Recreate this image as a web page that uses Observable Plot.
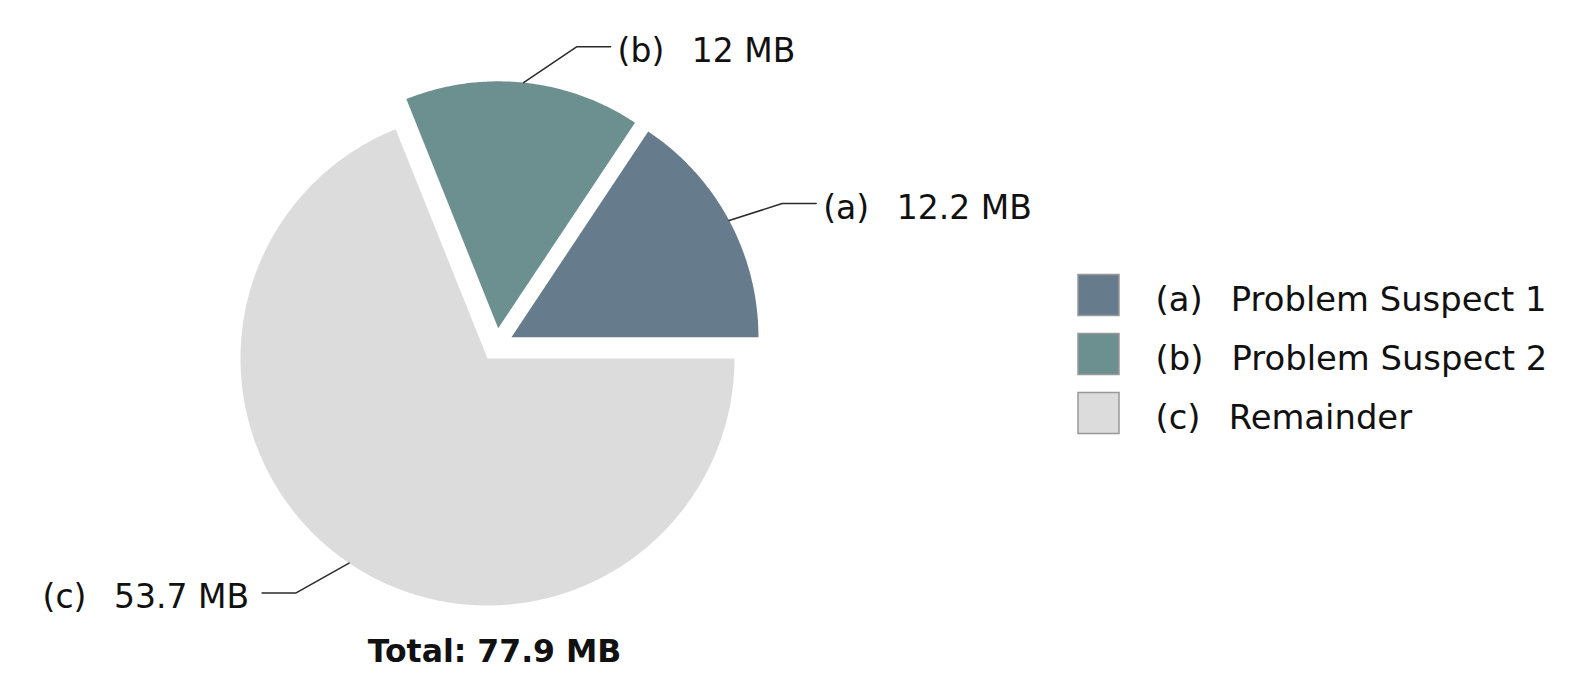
<!DOCTYPE html>
<html><head><meta charset="utf-8">
<script src="https://cdn.jsdelivr.net/npm/d3@7"></script>
<script src="https://cdn.jsdelivr.net/npm/@observablehq/plot@0.6"></script>
<style>html,body{margin:0;padding:0;background:#fff;} #chart svg{display:block}</style>
</head><body><div id="chart"></div>
<script>
// ---------------- data ----------------
const keys = ["(a)", "(b)", "(c)"];
const names = ["Problem Suspect 1", "Problem Suspect 2", "Remainder"];
const sizesMB = [12.2, 12, 53.7];
const exploded = [true, true, false];
const colors = ["#667b8b", "#6b908f", "#dcdcdc"];
const unit = "MB";

// ---------------- layout ----------------
const W = 1582, H = 684;
const CX = 487, CY = 358, R = 247;
const groupPull = 16, slicePull = 17;
const leaderRise = 36, leaderRun = 53, leaderTail = 34, gapStart = 7, gapEnd = 13;
const FS = 33, LFS = 33.8, FONT = "DejaVu Sans";
const legendX = 1078, legendShift = -4, legendStep = 59, swatch = 41, legendTextX = 1155;
const textDy = 5;
const SEP = "\u00a0\u00a0\u2009";

const total = d3.sum(sizesMB);
const rad = Math.PI / 180;
let acc = 0;
const slices = sizesMB.map((v, i) => {
  const a0 = acc / total * 360; acc += v; const a1 = acc / total * 360;
  return {i, key: keys[i], name: names[i], value: v, a0, a1, mid: (a0 + a1) / 2};
});
const ex = slices.filter(s => exploded[s.i]);
const groupMid = ex.length ? (d3.min(ex, s => s.a0) + d3.max(ex, s => s.a1)) / 2 : 0;
slices.forEach(s => {
  let ox = 0, oy = 0;
  if (exploded[s.i]) {
    ox = groupPull * Math.cos(groupMid * rad) + slicePull * Math.cos(s.mid * rad);
    oy = groupPull * Math.sin(groupMid * rad) + slicePull * Math.sin(s.mid * rad);
  }
  s.cx = CX + ox; s.cy = CY - oy;
});

// slice outlines (apex + arc), derived from the values
const polyPts = [];
slices.forEach(s => {
  polyPts.push({key: s.key, x: s.cx, y: s.cy});
  const n = Math.ceil((s.a1 - s.a0) / 0.5);
  for (let k = 0; k <= n; k++) {
    const a = (s.a0 + (s.a1 - s.a0) * k / n) * rad;
    polyPts.push({key: s.key, x: s.cx + R * Math.cos(a), y: s.cy - R * Math.sin(a)});
  }
});

// leader lines + labels
const leaderPts = [], labelData = [];
slices.forEach(s => {
  const m = s.mid * rad, side = Math.cos(m) >= 0 ? 1 : -1;
  const p0 = {x: s.cx + R * Math.cos(m), y: s.cy - R * Math.sin(m)};
  const p1 = {x: p0.x + side * leaderRun, y: p0.y - leaderRise * Math.sin(m)};
  const p2 = {x: p1.x + side * leaderTail, y: p1.y};
  [p0, p1, p2].forEach(p => leaderPts.push({key: s.key, ...p}));
  labelData.push({x: p2.x + (side > 0 ? gapStart : -gapEnd), y: p2.y,
    text: `${s.key}${SEP}${s.value} ${unit}`, anchor: side > 0 ? "start" : "end"});
});

// legend rows
const legend = slices.map((s, i) => ({
  key: s.key,
  cy: CY + legendShift + (i - (slices.length - 1) / 2) * legendStep,
  text: `${s.key}${SEP}${s.name}`
}));

const totalText = [{x: CX + 7, y: CY + R + 41, text: `Total: ${d3.format(".1f")(total)} ${unit}`}];

const chart = Plot.plot({
  width: W, height: H,
  margin: 0,
  x: {domain: [0, W], range: [0, W], axis: null},
  y: {domain: [0, H], range: [0, H], axis: null},
  color: {domain: keys, range: colors},
  style: {fontFamily: FONT, background: "#fff"},
  marks: [
    Plot.line(polyPts, {x: "x", y: "y", z: "key", fill: "key", stroke: "none", curve: "linear-closed"}),
    Plot.line(leaderPts, {x: "x", y: "y", z: "key", stroke: "#2a2a2a", strokeWidth: 1.5}),
    Plot.text(labelData.filter(d => d.anchor === "start"), {x: "x", y: "y", text: "text", textAnchor: "start", fontSize: FS, fill: "#111", dy: textDy}),
    Plot.text(labelData.filter(d => d.anchor === "end"), {x: "x", y: "y", text: "text", textAnchor: "end", fontSize: FS, fill: "#111", dy: textDy}),
    Plot.rect(legend, {x1: () => legendX, x2: () => legendX + swatch, y1: d => d.cy - swatch / 2, y2: d => d.cy + swatch / 2, fill: "key", stroke: "#999", strokeWidth: 1.5}),
    Plot.text(legend, {x: () => legendTextX, y: "cy", text: "text", textAnchor: "start", fontSize: LFS, fill: "#111", dy: textDy}),
    Plot.text(totalText, {x: "x", y: "y", text: "text", textAnchor: "middle", fontSize: 31.5, fontWeight: "bold", fill: "#111", dy: textDy})
  ]
});
document.getElementById("chart").append(chart);
</script>
</body></html>
